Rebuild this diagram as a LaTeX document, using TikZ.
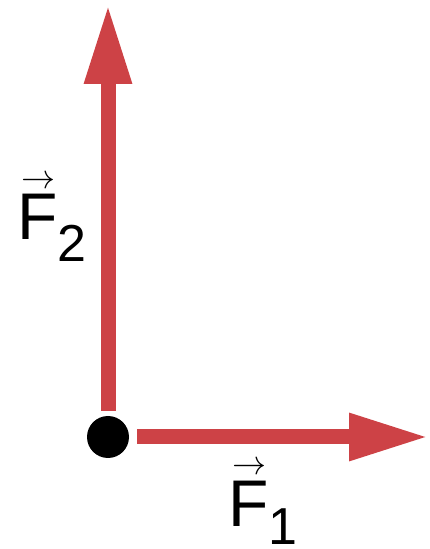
\RequirePackage{fix-cm}
\documentclass[tikz,border=0pt]{standalone}
\usepackage{fontspec}
\setmainfont{Liberation Sans}
\usepackage{tikz}
\usetikzlibrary{arrows.meta}
\definecolor{forcered}{RGB}{205,66,70}
\newcommand{\forcesym}[2]{\rlap{\hspace{4pt}\raisebox{51pt}{\fontsize{34}{34}\selectfont$\rightarrow$}}F\raisebox{#2}{\fontsize{52}{60}\selectfont #1}}

\begin{document}
\begin{tikzpicture}[
  x=1pt, y=1pt,
  force/.style={draw=forcered, line width=15pt, -{Triangle[length=80pt, width=44pt]}},
  point/.style={circle, fill=black, minimum size=42pt, inner sep=0pt},
  forcelabel/.style={anchor=base west, inner sep=0pt, font=\fontsize{66}{78}\selectfont}
]
\useasboundingbox (0,0) rectangle (430,549);
\node[point] (dot) at (108,112) {};
\coordinate (tipone) at (429,112);
\coordinate (tiptwo) at (108,545);
\draw[force] ([yshift=5pt]dot.north) -- (tiptwo);
\draw[force] ([xshift=8pt]dot.east) -- (tipone);
\node[forcelabel] (lbltwo) at (17,309) {\forcesym{2}{-22pt}};
\node[forcelabel] (lblone) at (228,23) {\forcesym{1}{-18pt}};
\end{tikzpicture}
\end{document}
